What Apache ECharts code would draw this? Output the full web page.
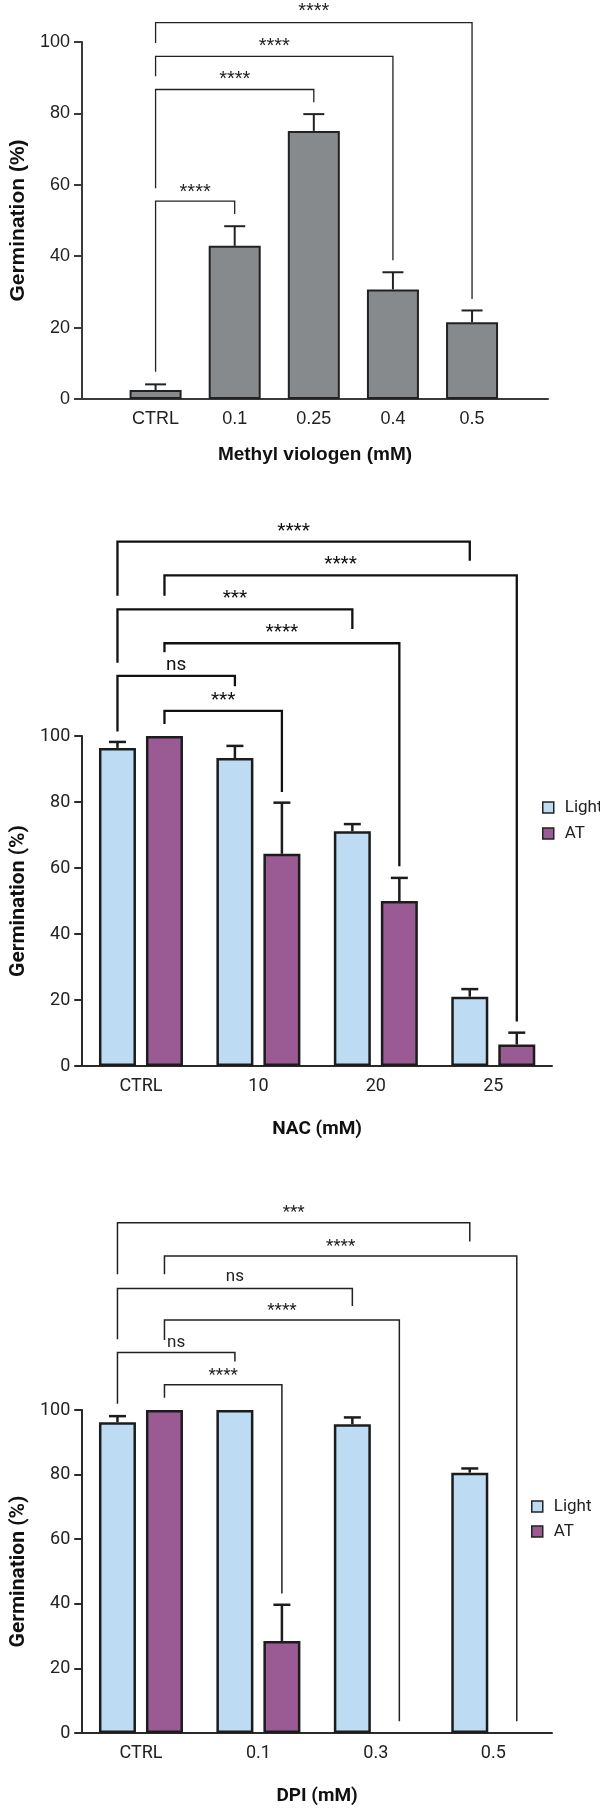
<!DOCTYPE html>
<html>
<head>
<meta charset="utf-8">
<script src="https://cdn.jsdelivr.net/npm/echarts@6/dist/echarts.min.js"></script>
<style>
  html, body { margin: 0; padding: 0; background: #fff; }
  #main { width: 600px; height: 1809px; }
</style>
</head>
<body>
<div id="main"></div>
<script>
// ---- Methyl viologen ----
var mvCategories = ['CTRL', '0.1', '0.25', '0.4', '0.5'];
var mvMean = [2.5, 42.9, 75.1, 30.7, 21.5];
var mvUpper = [4.1, 48.4, 79.8, 35.5, 24.8];
// [fromIdx, fromSide, toIdx, toSide, level, leftLegEnd, rightLegEnd, labelLevel]
var mvBrackets = [
  [1, 0, 2, 0, 55.4, 7.6, 51.8, 59.0],
  [1, 0, 3, 0, 86.7, 59.0, 83.1, 90.6],
  [1, 0, 4, 0, 96.0, 90.4, 38.9, 100.0],
  [1, 0, 5, 0, 105.4, 99.7, 28.0, 109.7]
];
var mvLabels = ['****', '****', '****', '****'];

// ---- NAC ----
var nacCategories = ['CTRL', '10', '20', '25'];
var nacLight = [96.4, 93.3, 71.1, 21.0];
var nacLightUpper = [98.2, 97.0, 73.3, 23.3];
var nacAT = [100, 64.3, 50.0, 6.5];
var nacATUpper = [100, 79.8, 57.0, 10.1];
var nacBrackets = [
  [0, 0, 3, 0, 158.9, 142.5, 153.1, 163.4],
  [0, 1, 3, 1, 148.7, 142.5, 13.5, 153.2],
  [0, 0, 2, 0, 138.4, 122.2, 132.4, 143.0],
  [0, 1, 2, 1, 128.1, 125.4, 60.5, 132.8],
  [0, 0, 1, 0, 118.2, 101.4, 115.1, 121.3],
  [0, 1, 1, 1, 107.6, 103.6, 83.0, 112.2]
];
var nacLabels = ['****', '****', '***', '****', 'ns', '***'];

// ---- DPI ----
var dpiCategories = ['CTRL', '0.1', '0.3', '0.5'];
var dpiLight = [96.2, 100, 95.6, 80.6];
var dpiLightUpper = [98.1, 100, 97.7, 81.9];
var dpiAT = [100, 28.5, '-', '-'];
var dpiATUpper = [100, 39.7, '-', '-'];
var dpiBrackets = [
  [0, 0, 3, 0, 158.0, 142.0, 152.2, 162.1],
  [0, 1, 3, 1, 147.7, 142.0, 3.6, 151.8],
  [0, 0, 2, 0, 137.6, 121.9, 132.2, 141.1],
  [0, 1, 2, 1, 127.9, 121.7, 3.6, 132.0],
  [0, 0, 1, 0, 117.8, 101.9, 115.0, 120.9],
  [0, 1, 1, 1, 107.8, 103.8, 43.2, 111.9]
];
var dpiLabels = ['***', '****', 'ns', '****', 'ns', '****'];

var LIGHT = '#bddcf3';
var AT = '#9a5b94';
var GREY = '#868a8d';
var PAIR_BAR = 37;
var PAIR_GAP = 10;
var PAIR_OFFSETS = [-(PAIR_BAR + PAIR_GAP) / 2, (PAIR_BAR + PAIR_GAP) / 2];

function errData(mean, upper, xs) {
  var out = [];
  mean.forEach(function (m, i) {
    if (m === '-' || upper[i] === '-' || upper[i] <= m) return;
    out.push([xs ? xs[i] : i, m, upper[i]]);
  });
  return out;
}

function errorBars(offset, capW, lw, color) {
  return function (params, api) {
    var p0 = api.coord([api.value(0), api.value(1)]);
    var p1 = api.coord([api.value(0), api.value(2)]);
    var cx = p0[0] + offset;
    var st = { stroke: color, lineWidth: lw };
    return {
      type: 'group',
      children: [
        { type: 'line', shape: { x1: cx, y1: p0[1], x2: cx, y2: p1[1] }, style: st },
        { type: 'line', shape: { x1: cx - capW / 2, y1: p1[1], x2: cx + capW / 2, y2: p1[1] }, style: st }
      ]
    };
  };
}

function brackets(labels, offsets, lw, color, font, fontSize) {
  return function (params, api) {
    var a = api.coord([api.value(0), api.value(4)]);
    var b = api.coord([api.value(2), api.value(4)]);
    var xa = a[0] + offsets[api.value(1)];
    var xb = b[0] + offsets[api.value(3)];
    var ya = api.coord([api.value(0), api.value(5)])[1];
    var yb = api.coord([api.value(2), api.value(6)])[1];
    var ty = api.coord([api.value(0), api.value(7)])[1];
    var txt = labels[params.dataIndex];
    ty += txt.charAt(0) === '*' ? fontSize * 0.22 : 0;
    return {
      type: 'group',
      children: [
        { type: 'polyline', shape: { points: [[xa, ya], [xa, a[1]], [xb, a[1]], [xb, yb]] },
          style: { stroke: color, lineWidth: lw, fill: null } },
        { type: 'text', style: { text: txt, x: (xa + xb) / 2, y: ty, align: 'center', verticalAlign: 'middle',
          fontSize: fontSize, fontFamily: font, fill: color } }
      ]
    };
  };
}

function yAxis(grid, font, size, gap, color, titleSize) {
  return {
    type: 'value', gridIndex: grid, min: 0, max: 100, interval: 20,
    name: 'Germination (%)', nameLocation: 'middle', nameGap: gap,
    nameTextStyle: { fontFamily: font, fontWeight: 'bold', fontSize: titleSize, color: '#111' },
    axisLine: { show: true, onZero: false, lineStyle: { color: color, width: 2 } },
    axisTick: { show: true, length: 8, lineStyle: { color: color, width: 2 } },
    axisLabel: { fontFamily: font, fontSize: size, color: '#222', margin: 12 },
    splitLine: { show: false }
  };
}

var chart = echarts.init(document.getElementById('main'), null, { renderer: 'canvas' });

var mvX = [1, 2, 3, 4, 5];
var mvBarData = mvMean.map(function (v, i) { return [mvX[i], v]; });

var option = {
  backgroundColor: '#fff',
  animation: false,
  grid: [
    { left: 79, top: 42, width: 469, height: 357 },
    { left: 82, top: 736, width: 470, height: 330 },
    { left: 82, top: 1410, width: 470, height: 323 }
  ],
  legend: [
    { data: ['Light', 'AT'], orient: 'vertical', left: 537, top: 794, icon: 'rect',
      itemWidth: 11, itemHeight: 11, itemGap: 9,
      itemStyle: { borderWidth: 1.5, borderColor: '#222' },
      textStyle: { fontFamily: 'Roboto', fontSize: 17, color: '#222', padding: [0, 0, 0, 6] } },
    { data: ['Light', 'AT'], orient: 'vertical', left: 526, top: 1493, icon: 'rect',
      itemWidth: 11, itemHeight: 11, itemGap: 8,
      itemStyle: { borderWidth: 1.5, borderColor: '#222' },
      textStyle: { fontFamily: 'Roboto', fontSize: 17, color: '#222', padding: [0, 0, 0, 6] } }
  ],
  xAxis: [
    {
      type: 'value', gridIndex: 0, min: 0.07, max: 5.96,
      name: 'Methyl viologen (mM)', nameLocation: 'middle', nameGap: 46,
      nameTextStyle: { fontFamily: 'Liberation Sans', fontWeight: 'bold', fontSize: 19, color: '#111' },
      axisLine: { onZero: false, lineStyle: { color: '#3a3a3a', width: 2 } },
      axisTick: { show: false },
      splitLine: { show: false },
      axisLabel: {
        customValues: mvX, fontFamily: 'Liberation Sans', fontSize: 18, color: '#222', margin: 11,
        formatter: function (v) { return mvCategories[Math.round(v) - 1] || ''; }
      }
    },
    {
      type: 'category', gridIndex: 1, data: nacCategories,
      name: 'NAC (mM)', nameLocation: 'middle', nameGap: 54,
      nameTextStyle: { fontFamily: 'Roboto', fontWeight: 'bold', fontSize: 19, color: '#111' },
      axisLine: { lineStyle: { color: '#2a2a2a', width: 2 } },
      axisTick: { show: false },
      axisLabel: { fontFamily: 'Roboto', fontSize: 18, color: '#222', margin: 11 }
    },
    {
      type: 'category', gridIndex: 2, data: dpiCategories,
      name: 'DPI (mM)', nameLocation: 'middle', nameGap: 54,
      nameTextStyle: { fontFamily: 'Roboto', fontWeight: 'bold', fontSize: 19, color: '#111' },
      axisLine: { lineStyle: { color: '#2a2a2a', width: 2 } },
      axisTick: { show: false },
      axisLabel: { fontFamily: 'Roboto', fontSize: 18, color: '#222', margin: 11 }
    }
  ],
  yAxis: [
    yAxis(0, 'Liberation Sans', 18, 53, '#3a3a3a', 21),
    yAxis(1, 'Roboto', 18, 53, '#2a2a2a', 21),
    yAxis(2, 'Roboto', 18, 53, '#2a2a2a', 21)
  ],
  series: [
    // Methyl viologen
    { type: 'bar', name: 'MV', xAxisIndex: 0, yAxisIndex: 0, barWidth: 52, data: mvBarData,
      itemStyle: { color: GREY, borderColor: '#222', borderWidth: 2 } },
    { type: 'custom', xAxisIndex: 0, yAxisIndex: 0, data: errData(mvMean, mvUpper, mvX),
      renderItem: errorBars(0, 21, 2, '#222'), z: 1 },
    { type: 'custom', xAxisIndex: 0, yAxisIndex: 0, data: mvBrackets, clip: false,
      renderItem: brackets(mvLabels, [0, 0], 1.3, '#222', 'Liberation Sans', 20), z: 5 },

    // NAC
    { type: 'bar', name: 'Light', xAxisIndex: 1, yAxisIndex: 1, barWidth: PAIR_BAR, barGap: (PAIR_GAP / PAIR_BAR * 100) + '%',
      data: nacLight, itemStyle: { color: LIGHT, borderColor: '#1c1c1c', borderWidth: 2.5 } },
    { type: 'bar', name: 'AT', xAxisIndex: 1, yAxisIndex: 1, barWidth: PAIR_BAR,
      data: nacAT, itemStyle: { color: AT, borderColor: '#1c1c1c', borderWidth: 2.5 } },
    { type: 'custom', xAxisIndex: 1, yAxisIndex: 1, data: errData(nacLight, nacLightUpper),
      renderItem: errorBars(PAIR_OFFSETS[0], 17, 2.5, '#1c1c1c'), z: 1 },
    { type: 'custom', xAxisIndex: 1, yAxisIndex: 1, data: errData(nacAT, nacATUpper),
      renderItem: errorBars(PAIR_OFFSETS[1], 17, 2.5, '#1c1c1c'), z: 1 },
    { type: 'custom', xAxisIndex: 1, yAxisIndex: 1, data: nacBrackets, clip: false,
      renderItem: brackets(nacLabels, PAIR_OFFSETS, 2.3, '#111', 'Roboto', 19), z: 5 },

    // DPI
    { type: 'bar', name: 'Light', xAxisIndex: 2, yAxisIndex: 2, barWidth: PAIR_BAR, barGap: (PAIR_GAP / PAIR_BAR * 100) + '%',
      data: dpiLight, itemStyle: { color: LIGHT, borderColor: '#1c1c1c', borderWidth: 2.5 } },
    { type: 'bar', name: 'AT', xAxisIndex: 2, yAxisIndex: 2, barWidth: PAIR_BAR,
      data: dpiAT, itemStyle: { color: AT, borderColor: '#1c1c1c', borderWidth: 2.5 } },
    { type: 'custom', xAxisIndex: 2, yAxisIndex: 2, data: errData(dpiLight, dpiLightUpper),
      renderItem: errorBars(PAIR_OFFSETS[0], 17, 2.5, '#1c1c1c'), z: 1 },
    { type: 'custom', xAxisIndex: 2, yAxisIndex: 2, data: errData(dpiAT, dpiATUpper),
      renderItem: errorBars(PAIR_OFFSETS[1], 17, 2.5, '#1c1c1c'), z: 1 },
    { type: 'custom', xAxisIndex: 2, yAxisIndex: 2, data: dpiBrackets, clip: false,
      renderItem: brackets(dpiLabels, PAIR_OFFSETS, 1.5, '#222', 'Roboto', 17), z: 5 }
  ]
};

chart.setOption(option);
</script>
</body>
</html>
